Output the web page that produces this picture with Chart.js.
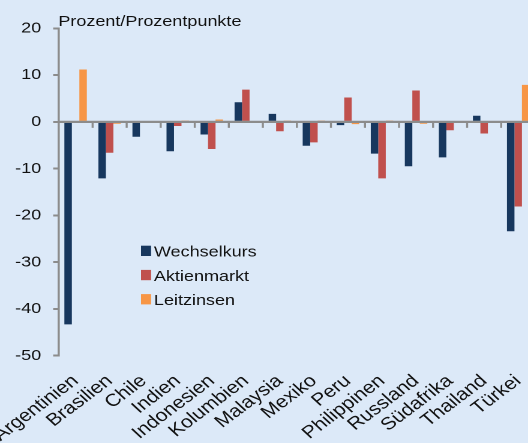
<!DOCTYPE html>
<html>
<head>
<meta charset="utf-8">
<script src="https://cdn.jsdelivr.net/npm/chart.js@4.4.1/dist/chart.umd.min.js"></script>
<style>
  html, body { margin: 0; padding: 0; background: #dce9f8; }
  #frame { width: 528px; height: 443px; overflow: hidden; background: #dce9f8; }
  /* the reference is stretched horizontally, so draw narrow and widen */
  #wrap { width: 446px; height: 443px; transform: scaleX(1.2); transform-origin: 0 0; }
</style>
</head>
<body>
<div id="frame"><div id="wrap"><canvas id="chart" width="446" height="443"></canvas></div></div>
<script>
const labels = ['Argentinien', 'Brasilien', 'Chile', 'Indien', 'Indonesien', 'Kolumbien', 'Malaysia',
  'Mexiko', 'Peru', 'Philippinen', 'Russland', 'Südafrika', 'Thailand', 'Türkei'];
const wechselkurs = [-43.3, -12.1, -3.2, -6.3, -2.7, 4.2, 1.7, -5.1, -0.7, -6.8, -9.5, -7.6, 1.3, -23.4];
const aktienmarkt = [0, -6.6, 0, -0.9, -5.8, 6.9, -2.0, -4.4, 5.2, -12.1, 6.7, -1.8, -2.5, -18.1];
const leitzinsen = [11.2, -0.4, 0, 0.3, 0.5, 0, 0.3, 0.3, -0.5, 0.3, -0.4, 0, 0, 7.9];
const yTicks = [20, 10, 0, -10, -20, -30, -40, -50];

const FONT = "'Liberation Sans', Arial, sans-serif";
const AXIS = '#8c8c8c';

// zero line + category separator ticks, drawn over the bars
const zeroAxis = {
  id: 'zeroAxis',
  afterDatasetsDraw(chart) {
    const { ctx, chartArea, scales: { x, y } } = chart;
    const y0 = y.getPixelForValue(0);
    ctx.save();
    ctx.strokeStyle = AXIS;
    ctx.lineWidth = 2.2;
    ctx.beginPath();
    ctx.moveTo(chartArea.left, y0);
    ctx.lineTo(chartArea.right, y0);
    ctx.stroke();
    ctx.lineWidth = 1.7;
    for (let i = 0; i < labels.length - 1; i++) {
      const xb = (x.getPixelForValue(i) + x.getPixelForValue(i + 1)) / 2;
      ctx.beginPath();
      ctx.moveTo(xb, y0);
      ctx.lineTo(xb, y0 + 6);
      ctx.stroke();
    }
    ctx.restore();
  }
};

// unit title and legend box inside the plot
const extras = {
  id: 'extras',
  afterDraw(chart) {
    const { ctx } = chart;
    ctx.save();
    ctx.font = '15px ' + FONT;
    ctx.fillStyle = '#111';
    ctx.textBaseline = 'alphabetic';
    ctx.fillText('Prozent/Prozentpunkte', 48.6, 26);
    chart.data.datasets.forEach((ds, i) => {
      const top = 245.7 + i * 24.2;
      ctx.fillStyle = ds.backgroundColor;
      ctx.fillRect(117.5, top, 8.4, 10.3);
      ctx.fillStyle = '#111';
      ctx.fillText(ds.label, 128.3, top + 11);
    });
    ctx.restore();
  }
};

new Chart(document.getElementById('chart'), {
  type: 'bar',
  data: {
    labels: labels,
    datasets: [
      { label: 'Wechselkurs', data: wechselkurs, backgroundColor: '#17375e' },
      { label: 'Aktienmarkt', data: aktienmarkt, backgroundColor: '#c0504d' },
      { label: 'Leitzinsen', data: leitzinsen, backgroundColor: '#f79646' },
    ],
  },
  options: {
    responsive: false,
    devicePixelRatio: 2,
    animation: false,
    layout: { padding: { top: 28.3, left: 0, right: 0, bottom: 0 } },
    datasets: { bar: { barPercentage: 1, categoryPercentage: 0.66 } },
    plugins: {
      legend: { display: false },
      tooltip: { enabled: false },
    },
    scales: {
      x: {
        grid: { display: false, drawTicks: false },
        border: { display: false },
        ticks: {
          font: { family: FONT, size: 17.5 },
          color: '#111',
          minRotation: 42,
          maxRotation: 42,
          autoSkip: false,
          padding: 15,
          labelOffset: 0,
        },
        afterFit: (scale) => {
          scale.height = 87.3;
          // long rotated labels may hang off the left edge, like in the original
          scale.paddingLeft = 0;
          scale.paddingRight = 0;
        },
      },
      y: {
        min: -50,
        max: 20,
        afterBuildTicks: (scale) => { scale.ticks = yTicks.map(v => ({ value: v })); },
        grid: {
          drawOnChartArea: false,
          color: AXIS,
          lineWidth: 2,
          tickLength: 4.5,
        },
        border: { color: AXIS, width: 1.8 },
        ticks: {
          font: { family: FONT, size: 15 },
          color: '#111',
          padding: 10,
        },
        afterFit: (scale) => { scale.width = 48.8; },
      },
    },
  },
  plugins: [zeroAxis, extras],
});
</script>
</body>
</html>
